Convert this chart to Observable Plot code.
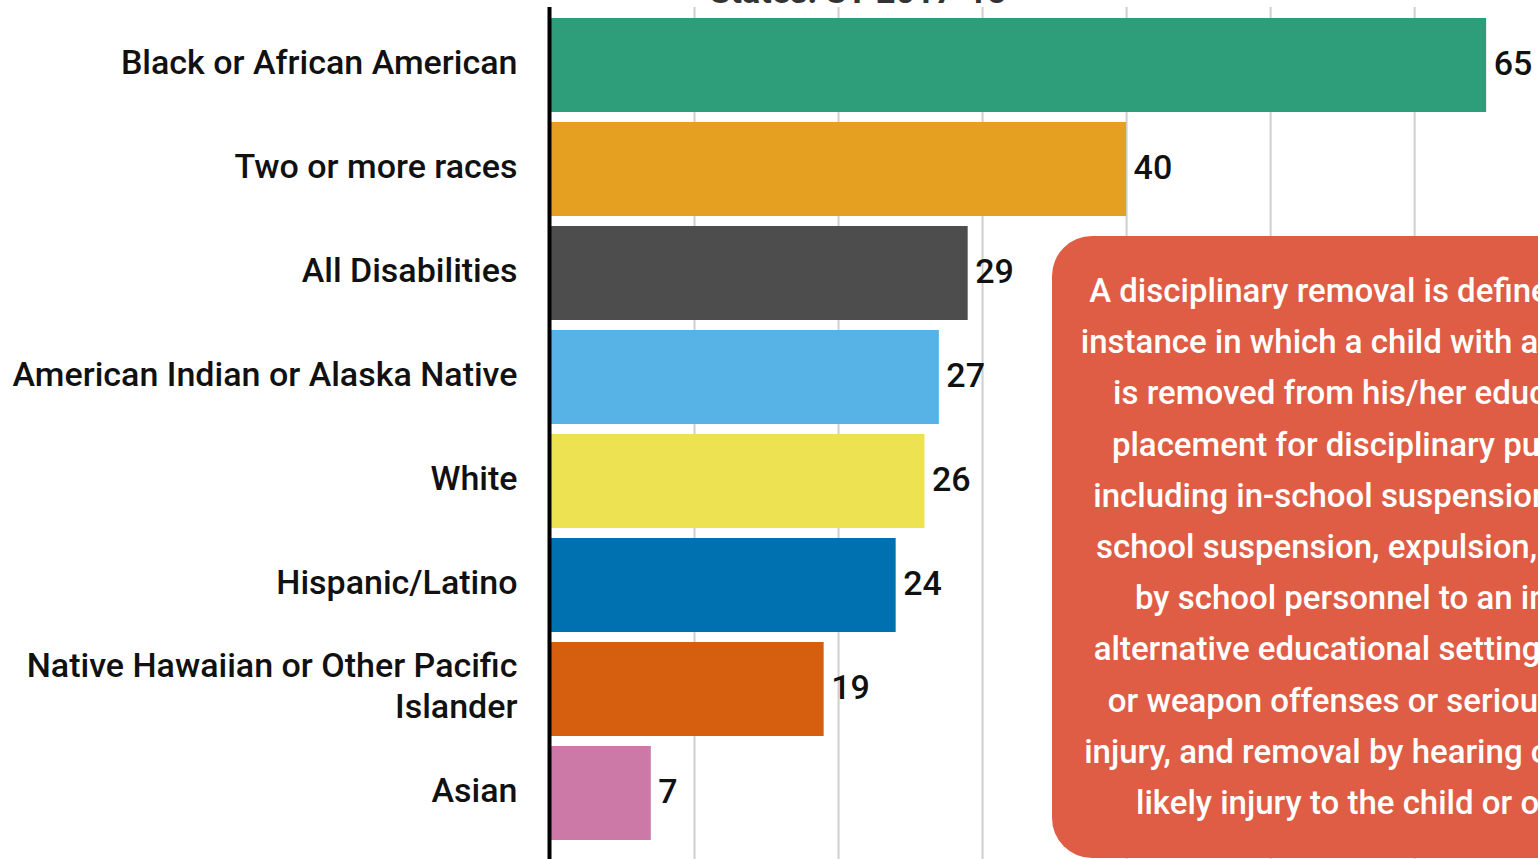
<!DOCTYPE html>
<html>
<head>
<meta charset="utf-8">
<script src="https://cdn.jsdelivr.net/npm/d3@7"></script>
<script src="https://cdn.jsdelivr.net/npm/@observablehq/plot@0.6"></script>
<style>
  html, body { margin: 0; padding: 0; background: #fff; overflow: hidden; }
  #wrap { position: relative; width: 1538px; height: 859px; overflow: hidden; font-family: Roboto, sans-serif; }
  #title { position: absolute; left: 558px; width: 600px; top: -24px; text-align: center; font-size: 34px; font-weight: 700; color: #333; line-height: 30px; white-space: nowrap; }
  #note { position: absolute; left: 1052px; top: 236px; width: 700px; height: 622px; border-radius: 40px; background: #DF5C45; }
  #noteText { position: absolute; left: 328px; top: 29px; transform: translateX(-50%); color: #fff; text-align: center; font-size: 33px; font-weight: 500; line-height: 51.2px; white-space: nowrap; }
</style>
</head>
<body>
<div id="wrap">
  <div id="chart"></div>
  <div id="title">States: SY 2017-18</div>
  <div id="note"><div id="noteText"></div></div>
</div>
<script>
const categories = [
  "Black or African American",
  "Two or more races",
  "All Disabilities",
  "American Indian or Alaska Native",
  "White",
  "Hispanic/Latino",
  "Native Hawaiian or Other Pacific Islander",
  "Asian"
];
const labels = [
  "Black or African American",
  "Two or more races",
  "All Disabilities",
  "American Indian or Alaska Native",
  "White",
  "Hispanic/Latino",
  "Native Hawaiian or Other Pacific\nIslander",
  "Asian"
];
const values = [65, 40, 29, 27, 26, 24, 19, 7];
const colors = ["#2E9E7A", "#E5A022", "#4D4D4D", "#57B3E6", "#EDE352", "#0071B0", "#D55E0F", "#CC79A7"];
const xTicks = [10, 20, 30, 40, 50, 60];
const noteLines = [
  "A disciplinary removal is defined as any",
  "instance in which a child with a disability",
  "is removed from his/her educational",
  "placement for disciplinary purposes,",
  "including in-school suspension, out-of-",
  "school suspension, expulsion, removal",
  "by school personnel to an interim",
  "alternative educational setting for drug",
  "or weapon offenses or serious bodily",
  "injury, and removal by hearing officer for",
  "likely injury to the child or others."
];

const data = categories.map((c, i) => ({cat: c, label: labels[i], value: values[i], color: colors[i]}));

const chart = Plot.plot({
  width: 1538,
  height: 859,
  marginLeft: 550,
  marginRight: 0,
  marginTop: 7,
  marginBottom: 0,
  style: {fontFamily: "Roboto, sans-serif", background: "#fff"},
  x: {domain: [0, 68.6], axis: null},
  y: {domain: categories, range: [7, 850], padding: 0.1, axis: null},
  color: {type: "identity"},
  marks: [
    Plot.gridX(xTicks, {stroke: "#cfcfcf", strokeOpacity: 1, strokeWidth: 2}),
    Plot.barX(data, {x: "value", y: "cat", fill: "color"}),
    Plot.ruleX([0], {stroke: "#000", strokeWidth: 4, dx: -1}),
    Plot.text(data, {x: 0, y: "cat", text: "label", dx: -33, dy: -5, textAnchor: "end", fontSize: 34, fontWeight: 500, fill: "#111", lineHeight: 1.21}),
    Plot.text(data, {x: "value", y: "cat", text: d => String(d.value), dx: 7, dy: -1, textAnchor: "start", fontSize: 34, fontWeight: 500, fill: "#111"})
  ]
});
document.getElementById("chart").appendChild(chart);
document.getElementById("noteText").innerHTML = noteLines.join("<br>");
</script>
</body>
</html>
